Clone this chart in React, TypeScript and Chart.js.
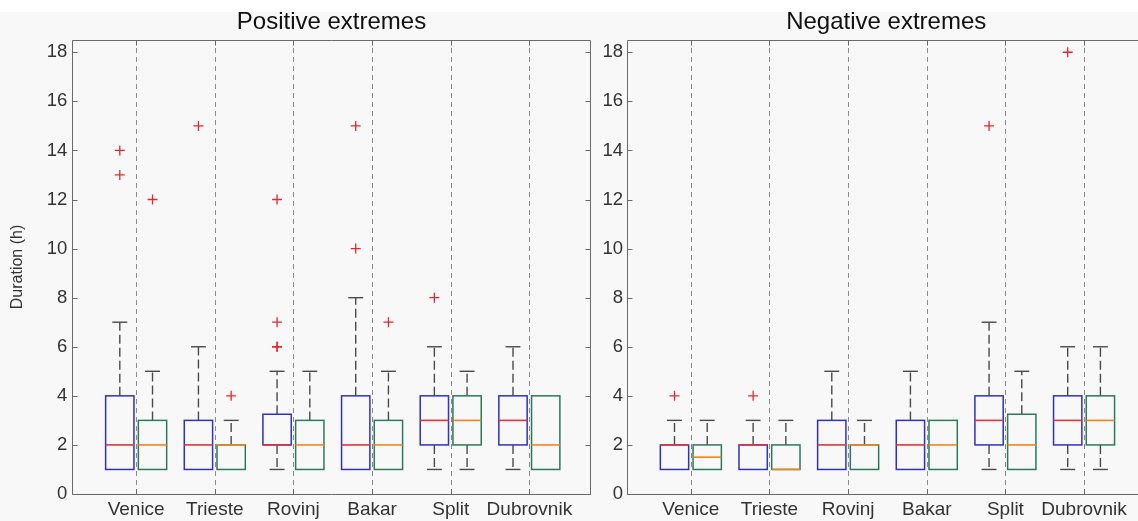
import React, { useEffect, useRef } from 'react';
import { Chart, registerables } from 'chart.js';

Chart.register(...registerables);

// ---------- data ----------
const categories = ['Venice', 'Trieste', 'Rovinj', 'Bakar', 'Split', 'Dubrovnik'];

// Positive extremes – first box of each pair (blue box, red median)
const posA_min = [1, 1, 1, 1, 1, 1];
const posA_q1 = [1, 1, 2, 1, 2, 2];
const posA_med = [2, 2, 2, 2, 3, 3];
const posA_q3 = [4, 3, 3.25, 4, 4, 4];
const posA_max = [7, 6, 5, 8, 6, 6];
const posA_out = [[13, 14], [15], [6, 6, 7, 12], [10, 15], [8], []];

// Positive extremes – second box of each pair (green box, orange median)
const posB_min = [1, 1, 1, 1, 1, 1];
const posB_q1 = [1, 1, 1, 1, 2, 1];
const posB_med = [2, 2, 2, 2, 3, 2];
const posB_q3 = [3, 2, 3, 3, 4, 4];
const posB_max = [5, 3, 5, 5, 5, 4];
const posB_out = [[12], [4], [], [7], [], []];

// Negative extremes – first box
const negA_min = [1, 1, 1, 1, 1, 1];
const negA_q1 = [1, 1, 1, 1, 2, 2];
const negA_med = [2, 2, 2, 2, 3, 3];
const negA_q3 = [2, 2, 3, 3, 4, 4];
const negA_max = [3, 3, 5, 5, 7, 6];
const negA_out = [[4], [4], [], [], [15], [18]];

// Negative extremes – second box
const negB_min = [1, 1, 1, 1, 1, 1];
const negB_q1 = [1, 1, 1, 1, 1, 2];
const negB_med = [1.5, 1, 2, 2, 2, 3];
const negB_q3 = [2, 2, 2, 3, 3.25, 4];
const negB_max = [3, 3, 3, 3, 5, 6];
const negB_out = [[], [], [], [], [], []];

const Y_MIN = 0;
const Y_MAX = 18.5;
const Y_STEP = 2;

// ---------- style ----------
const FONT = "'Liberation Sans', Arial, Helvetica, sans-serif";
const X_MIN = 0.188;
const X_MAX = 6.78;
const BOX_OFFSET = 0.208;
const BOX_WIDTH = 0.36;
const CAP_WIDTH = 0.19;
const BLUE = '#3030c4';
const GREEN = '#2c7a5a';
const RED_MED = '#e0353a';
const ORANGE_MED = '#f5821f';
const OUTLIER = '#e8262b';
const WHISKER = '#4a4a4a';
const AXIS = '#6a6a6a';
const GRID = '#8a8a8a';

type Series = {
  min: number[]; q1: number[]; med: number[]; q3: number[]; max: number[]; out: number[][];
  offset: number; edge: string; median: string;
};

const posSeries: Series[] = [
  { min: posA_min, q1: posA_q1, med: posA_med, q3: posA_q3, max: posA_max, out: posA_out, offset: -BOX_OFFSET, edge: BLUE, median: RED_MED },
  { min: posB_min, q1: posB_q1, med: posB_med, q3: posB_q3, max: posB_max, out: posB_out, offset: BOX_OFFSET, edge: GREEN, median: ORANGE_MED },
];
const negSeries: Series[] = [
  { min: negA_min, q1: negA_q1, med: negA_med, q3: negA_q3, max: negA_max, out: negA_out, offset: -BOX_OFFSET, edge: BLUE, median: RED_MED },
  { min: negB_min, q1: negB_q1, med: negB_med, q3: negB_q3, max: negB_max, out: negB_out, offset: BOX_OFFSET, edge: GREEN, median: ORANGE_MED },
];

function outlierPoints(s: Series) {
  const pts: { x: number; y: number }[] = [];
  s.out.forEach((vals, i) => vals.forEach((v) => pts.push({ x: i + 1 + s.offset, y: v })));
  return pts;
}

function makeBoxPlugin(series: Series[]) {
  return {
    id: 'boxplots',
    beforeDatasetsDraw(chart: any) {
      const { ctx, chartArea, scales } = chart;
      const x = scales.x;
      const y = scales.y;
      ctx.save();
      // dashed category separators
      ctx.strokeStyle = GRID;
      ctx.lineWidth = 1;
      ctx.setLineDash([5, 4]);
      x.ticks.forEach((t: any) => {
        const px = Math.round(x.getPixelForValue(t.value)) + 0.5;
        ctx.beginPath();
        ctx.moveTo(px, chartArea.bottom);
        ctx.lineTo(px, chartArea.top);
        ctx.stroke();
      });
      ctx.setLineDash([]);
      const unit = x.getPixelForValue(1) - x.getPixelForValue(0);
      const hw = (BOX_WIDTH * unit) / 2;
      const cw = (CAP_WIDTH * unit) / 2;
      series.forEach((s) => {
        s.q1.forEach((_, i) => {
          const cx = x.getPixelForValue(i + 1 + s.offset);
          const yq1 = y.getPixelForValue(s.q1[i]);
          const yq3 = y.getPixelForValue(s.q3[i]);
          const ymed = y.getPixelForValue(s.med[i]);
          const ymin = y.getPixelForValue(s.min[i]);
          const ymax = y.getPixelForValue(s.max[i]);
          // whiskers
          ctx.strokeStyle = WHISKER;
          ctx.lineWidth = 1.4;
          if (s.max[i] > s.q3[i]) {
            ctx.setLineDash([9, 4]);
            ctx.beginPath();
            ctx.moveTo(cx, yq3);
            ctx.lineTo(cx, ymax);
            ctx.stroke();
            ctx.setLineDash([]);
            ctx.beginPath();
            ctx.moveTo(cx - cw, ymax);
            ctx.lineTo(cx + cw, ymax);
            ctx.stroke();
          }
          if (s.min[i] < s.q1[i]) {
            ctx.setLineDash([9, 4]);
            ctx.beginPath();
            ctx.moveTo(cx, yq1);
            ctx.lineTo(cx, ymin);
            ctx.stroke();
            ctx.setLineDash([]);
            ctx.beginPath();
            ctx.moveTo(cx - cw, ymin);
            ctx.lineTo(cx + cw, ymin);
            ctx.stroke();
          }
          // box
          ctx.strokeStyle = s.edge;
          ctx.lineWidth = 1.5;
          ctx.strokeRect(cx - hw, yq3, hw * 2, yq1 - yq3);
          // median
          ctx.strokeStyle = s.median;
          ctx.lineWidth = 1.6;
          ctx.beginPath();
          ctx.moveTo(cx - hw, ymed);
          ctx.lineTo(cx + hw, ymed);
          ctx.stroke();
        });
      });
      ctx.restore();
    },
    afterDraw(chart: any) {
      const { ctx, chartArea, scales } = chart;
      const { left, right, top, bottom } = chartArea;
      const L = Math.round(left) + 0.5;
      const R = Math.round(right) - 0.5;
      const T = Math.round(top) + 0.5;
      const B = Math.round(bottom) + 0.5;
      ctx.save();
      ctx.strokeStyle = AXIS;
      ctx.lineWidth = 1;
      ctx.beginPath();
      ctx.moveTo(L, T);
      ctx.lineTo(R, T);
      ctx.lineTo(R, B);
      ctx.lineTo(L, B);
      ctx.closePath();
      ctx.stroke();
      scales.y.ticks.forEach((t: any) => {
        const py = Math.round(scales.y.getPixelForValue(t.value)) + 0.5;
        ctx.beginPath();
        ctx.moveTo(L, py);
        ctx.lineTo(L + 5, py);
        ctx.moveTo(R, py);
        ctx.lineTo(R - 5, py);
        ctx.stroke();
      });
      scales.x.ticks.forEach((t: any) => {
        const px = Math.round(scales.x.getPixelForValue(t.value)) + 0.5;
        ctx.beginPath();
        ctx.moveTo(px, B);
        ctx.lineTo(px, B - 5);
        ctx.moveTo(px, T);
        ctx.lineTo(px, T + 5);
        ctx.stroke();
      });
      ctx.restore();
    },
  };
}

type PanelProps = {
  title: string;
  series: Series[];
  showYTitle: boolean;
  left: number;
  canvasWidth: number;
  yAxisWidth: number;
  padRight: number;
  labelPad: number;
};

function Panel({ title, series, showYTitle, left, canvasWidth, yAxisWidth, padRight, labelPad }: PanelProps) {
  const ref = useRef<HTMLCanvasElement>(null);
  useEffect(() => {
    const chart = new Chart(ref.current as HTMLCanvasElement, {
      type: 'scatter',
      data: {
        datasets: series.map((s) => ({
          data: outlierPoints(s),
          pointStyle: 'cross',
          pointRadius: 5,
          pointBorderWidth: 1.3,
          borderColor: OUTLIER,
          backgroundColor: OUTLIER,
          showLine: false,
        })),
      },
      options: {
        responsive: false,
        animation: false,
        events: [],
        layout: { autoPadding: false, padding: { left: 0, right: padRight, top: 0, bottom: 0 } },
        plugins: {
          legend: { display: false },
          tooltip: { enabled: false },
          title: {
            display: true,
            text: title,
            fullSize: false,
            color: '#111',
            font: { family: FONT, size: 24, weight: 'normal' },
            padding: { top: 8.2, bottom: 3 },
          },
        },
        scales: {
          x: {
            type: 'linear',
            min: X_MIN,
            max: X_MAX,
            afterFit: (s: any) => {
              s.height = 27;
              s.paddingLeft = 0;
              s.paddingRight = 0;
            },
            grid: { display: false, drawTicks: false },
            border: { display: false },
            ticks: {
              stepSize: 1,
              includeBounds: false,
              autoSkip: false,
              maxRotation: 0,
              padding: 4,
              color: '#333',
              font: { family: FONT, size: 19 },
              callback: (v: any) => (Number.isInteger(v) ? categories[v - 1] ?? '' : ''),
            },
          },
          y: {
            type: 'linear',
            min: Y_MIN,
            max: Y_MAX,
            afterFit: (s: any) => {
              s.width = yAxisWidth;
            },
            grid: { display: false, drawTicks: false },
            border: { display: false },
            ticks: {
              stepSize: Y_STEP,
              includeBounds: false,
              padding: labelPad,
              color: '#333',
              font: { family: FONT, size: 18.5 },
            },
            title: {
              display: showYTitle,
              text: 'Duration (h)',
              color: '#333',
              font: { family: FONT, size: 16 },
              padding: { top: 8, bottom: 0 },
            },
          },
        },
      } as any,
      plugins: [makeBoxPlugin(series)],
    });
    return () => chart.destroy();
  }, []);
  return (
    <canvas
      ref={ref}
      width={canvasWidth}
      height={521}
      style={{ position: 'absolute', left, top: 0, width: canvasWidth, height: 521, display: 'block' }}
    />
  );
}

export default function App() {
  return (
    <div
      style={{
        position: 'fixed',
        left: 0,
        top: 0,
        width: 1138,
        height: 521,
        overflow: 'hidden',
        background: '#f8f8f8',
      }}
    >
      <div style={{ position: 'absolute', left: 0, top: 0, width: 1138, height: 12, background: '#ffffff' }} />
      <Panel
        title="Positive extremes"
        series={posSeries}
        showYTitle={true}
        left={0}
        canvasWidth={600}
        yAxisWidth={72.3}
        padRight={9.3}
        labelPad={5}
      />
      <Panel
        title="Negative extremes"
        series={negSeries}
        showYTitle={false}
        left={600}
        canvasWidth={546}
        yAxisWidth={27}
        padRight={0.6}
        labelPad={4}
      />
    </div>
  );
}
